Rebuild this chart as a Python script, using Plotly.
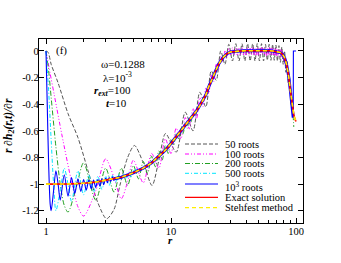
import plotly.graph_objects as go

# ---------------- data ----------------
exact_r = [1.0, 1.3, 1.6, 2.0, 2.5, 3.0, 4.0, 5.0, 6.0, 7.0, 8.0, 9.0, 10, 11, 12, 13, 14, 15, 16, 17, 18, 19, 20,
           22, 24, 26, 28, 30, 33, 36, 40, 45, 50, 55, 60, 65, 70, 75, 78, 81, 84, 87, 90, 93, 96, 98, 100]
exact_v = [-1.0, -1.0, -0.998, -0.993, -0.985, -0.97, -0.948, -0.915, -0.88, -0.84, -0.79, -0.745, -0.695, -0.645,
           -0.60, -0.56, -0.525, -0.49, -0.45, -0.41, -0.37, -0.33, -0.27, -0.18, -0.10, -0.05, -0.02, -0.008,
           -0.002, 0.0, 0.002, 0.003, 0.003, 0.003, 0.002, 0.0, -0.004, -0.012, -0.025, -0.05, -0.10, -0.18,
           -0.29, -0.40, -0.48, -0.51, -0.53]

stehfest_r = exact_r
stehfest_v = exact_v

gray_r = [1.0, 1.04, 1.1, 1.25, 1.5, 1.8, 2.17, 2.6, 3.05, 3.5, 3.9, 4.5, 5.1, 6.0, 7.05, 8.0, 9.05,
          11, 13, 15, 17, 19, 21, 23, 25, 27, 29, 31, 33, 35, 37, 39, 41, 43, 45, 47, 49, 51, 53, 55, 57, 59,
          61, 63, 65, 67, 69, 71, 73, 75, 77, 79, 81, 83, 85, 87, 89, 91, 93, 95]
gray_v = [0, -0.01, -0.1, -0.24, -0.47, -0.65, -0.9, -1.14, -1.26, -1.19, -1.01, -0.80, -0.71, -0.84, -1.01, -0.82, -0.62,
          -0.76, -0.46, -0.60, -0.31, -0.42, -0.15, -0.22, 0.0, -0.10, 0.05, -0.075, 0.055, -0.075, 0.055, -0.075,
          0.055, -0.075, 0.055, -0.075, 0.055, -0.075, 0.055, -0.075, 0.05, -0.07, 0.05, -0.07, 0.05, -0.07, 0.045,
          -0.075, 0.04, -0.085, 0.03, -0.10, 0.0, -0.16, -0.08, -0.25, -0.20, -0.40, -0.35, -0.50]

mag_r = [1.0, 1.08, 1.17, 1.34, 1.6, 1.8, 2.0, 2.5, 3.0, 3.5, 4.0, 4.5, 5.0, 6.0, 7.0,
         8, 9, 10, 11, 12, 13, 14, 15, 16, 17, 18, 19, 20, 21, 22, 23, 24, 25, 26, 27, 28, 29,
         30, 31, 32, 33, 34, 35, 36, 37, 38, 39, 40, 41, 42, 43, 44, 45, 46, 47, 48, 49, 50, 51, 52, 53, 54,
         55, 56, 57, 58, 59, 60, 61, 62, 63, 64, 65, 66, 67, 68, 69, 70, 71, 72, 73, 74, 75, 76, 77, 78,
         79, 80, 81, 82, 83, 84, 85, 86, 87, 88, 89, 90, 91, 92, 93, 94, 95]
mag_v = [0, -0.17, -0.34, -0.63, -0.98, -1.17, -1.24, -1.05, -0.81, -0.95, -1.11, -0.98, -0.82, -0.99, -0.77,
         -0.88, -0.66, -0.77, -0.58, -0.66, -0.50, -0.585, -0.43, -0.51, -0.35, -0.42, -0.28, -0.32, -0.18, -0.23,
         -0.10, -0.14, -0.04, -0.08, 0.0, -0.05, 0.02,
         -0.03, 0.025, -0.03, 0.02, -0.035, 0.02, -0.03, 0.025, -0.03, 0.02, -0.03, 0.025, -0.035, 0.02, -0.03,
         0.025, -0.03, 0.02, -0.03, 0.025, -0.035, 0.02, -0.03, 0.025, -0.03, 0.02, -0.03, 0.025, -0.035, 0.02,
         -0.03, 0.025, -0.03, 0.02, -0.03, 0.02, -0.035, 0.02, -0.03, 0.02, -0.035, 0.015, -0.035, 0.015, -0.04,
         0.01, -0.045, 0.005, -0.055,
         -0.01, -0.07, -0.03, -0.10, -0.06, -0.14, -0.11, -0.19, -0.16, -0.25, -0.23, -0.32, -0.31, -0.39, -0.40,
         -0.47, -0.50]

grn_r = [1.0, 1.05, 1.1, 1.2, 1.3, 1.4, 1.5, 1.75, 2.0, 2.5, 3.0, 3.5, 4.0, 4.5, 5.0, 5.5, 6.0, 6.5, 7.0, 7.5,
         8.0, 8.5, 9.0, 9.5, 10, 10.5, 11, 11.5, 12, 12.5, 13, 13.5, 14, 14.5, 15, 16, 18, 20, 22, 24, 26, 28,
         30, 36, 50, 65, 75, 81, 87, 90, 93, 95, 96]
grn_v = [0, -0.15, -0.35, -0.72, -1.0, -1.16, -1.21, -1.02, -0.84, -1.12, -0.88, -1.06, -0.88, -1.01, -0.86,
         -0.96, -0.83, -0.92, -0.79, -0.87, -0.75, -0.82, -0.71, -0.77, -0.66, -0.71, -0.62, -0.66, -0.58, -0.62,
         -0.54, -0.58, -0.50, -0.53, -0.47, -0.45, -0.37, -0.27, -0.18, -0.10, -0.05, -0.02, -0.008, 0.0, 0.003,
         0.0, -0.012, -0.05, -0.18, -0.29, -0.41, -0.50, -0.57]

cyn_r = [1.0, 1.05, 1.1, 1.15, 1.2, 1.3, 1.4, 1.5, 1.6, 1.8, 2.0, 2.2, 2.4, 2.6, 2.8, 3.0, 3.2, 3.4, 3.6, 3.8,
         4.0, 4.2, 4.4, 4.6, 4.8, 5.0, 6, 7, 8, 9, 10, 12, 14, 16, 18, 20, 22, 24, 26, 28, 30, 36, 50, 65, 75,
         81, 87, 90, 93, 95]
cyn_v = [0, -0.3, -0.67, -1.0, -1.2, -1.05, -0.88, -1.0, -1.13, -0.9, -1.08, -0.93, -1.06, -0.94, -1.04, -0.94,
         -1.01, -0.935, -0.985, -0.925, -0.965, -0.92, -0.955, -0.91, -0.945, -0.90, -0.88, -0.84, -0.79, -0.745,
         -0.695, -0.60, -0.525, -0.45, -0.37, -0.27, -0.18, -0.10, -0.05, -0.02, -0.008, 0.0, 0.003, 0.0, -0.012,
         -0.05, -0.18, -0.29, -0.41, -0.48]

blu_r = [1.0, 1.02, 1.05, 1.08, 1.1, 1.15, 1.2, 1.25, 1.3, 1.4, 1.5, 1.6, 1.7, 1.8, 1.9, 2.0, 2.1, 2.2, 2.3,
         2.4, 2.5, 2.6, 2.7, 2.8, 2.9, 3.0, 3.1, 3.2, 3.3, 3.4, 3.5]
blu_v = [0, -0.35, -0.85, -1.15, -1.2, -1.05, -0.9, -1.0, -1.12, -0.93, -1.09, -0.95, -1.07, -0.96, -1.055,
         -0.965, -1.045, -0.97, -1.035, -0.97, -1.025, -0.965, -1.015, -0.96, -1.005, -0.955, -0.99, -0.95, -0.98,
         -0.945, -0.975]
blu_band_r = [3.5, 4.0, 5.0, 6.0, 7.0, 8.0, 9.0, 10, 11, 12, 13, 14, 15, 16, 17, 18, 19, 20, 22, 24, 26, 28, 30,
              33, 36, 40, 45, 50, 55, 60, 65, 70, 75, 78, 81, 84, 87, 90, 93, 95]
blu_band_v = [-0.96, -0.948, -0.915, -0.88, -0.84, -0.79, -0.745, -0.695, -0.645, -0.60, -0.56, -0.525, -0.49,
              -0.45, -0.41, -0.37, -0.33, -0.27, -0.18, -0.10, -0.05, -0.02, -0.008, -0.002, 0.0, 0.002, 0.003,
              0.003, 0.003, 0.002, 0.0, -0.004, -0.012, -0.025, -0.05, -0.1, -0.18, -0.29, -0.40, -0.50]
blu_tail_r = [95, 95.3, 100]
blu_tail_v = [-0.50, 0.0, 0.0]

x_tickvals = [1, 10, 100]
x_ticktext = ["1", "10", "100"]
x_minor = [2, 3, 4, 5, 6, 7, 8, 9, 20, 30, 40, 50, 60, 70, 80, 90]
y_tickvals = [0, -0.2, -0.4, -0.6, -0.8, -1.0, -1.2]
y_ticktext = ["0", "-0.2", "-0.4", "-0.6", "-0.8", "-1", "-1.2"]

legend_labels = ["50 roots", "100 roots", "200 roots", "500 roots", "10<sup>3</sup> roots",
                 "Exact solution", "Stehfest method"]

# ---------------- styles / layout ----------------
FONT = "Liberation Serif"
W, H = 341, 263
L, T = 39, 39                # plot area at px 39..303 x 39..223
R, B = 341 - 303, 263 - 223
PW, PH = W - L - R, H - T - B

def px(xp):
    """pixel x -> paper fraction"""
    return (xp - L) / PW

def py(yp):
    """pixel y -> paper fraction"""
    return (H - B - yp) / PH

styles = [
    dict(color="#555555", width=1.0, dash="4px,2px"),
    dict(color="#ff00ff", width=1.0, dash="4px,2px,1px,2px,1px,2px"),
    dict(color="#22a022", width=1.0, dash="5px,2px,1px,2px"),
    dict(color="#00e5ff", width=1.0, dash="4px,2px,1px,2px"),
    dict(color="#0000ff", width=1.1, dash="solid"),
    dict(color="#ff0000", width=1.6, dash="solid"),
    dict(color="#ffee00", width=1.6, dash="4px,3px"),
]

fig = go.Figure()

def add(r, v, st, shape="spline", width=None):
    line = dict(color=st["color"], width=width or st["width"], dash=st["dash"], shape=shape)
    if shape == "spline":
        line["smoothing"] = 0.8
    fig.add_trace(go.Scatter(x=r, y=v, mode="lines", line=line, showlegend=False, hoverinfo="skip"))

add(gray_r, gray_v, styles[0])
add(mag_r, mag_v, styles[1])
add(grn_r, grn_v, styles[2])
add(cyn_r, cyn_v, styles[3])
add(blu_band_r, blu_band_v, styles[4], shape="linear", width=3.0)
add(blu_r, blu_v, styles[4])
add(blu_tail_r, blu_tail_v, styles[4], shape="linear")
add(exact_r, exact_v, styles[5], shape="linear")
add(stehfest_r, stehfest_v, styles[6], shape="linear")

# ---------------- manual legend ----------------
leg_y = [144, 154, 163.5, 173.3, 184, 197.3, 207.7]
leg_text_y = [144, 154, 163.5, 173.3, 186, 197.3, 207.7]
shapes = []
annots = []
for lab, st, yl, yt in zip(legend_labels, styles, leg_y, leg_text_y):
    shapes.append(dict(type="line", xref="paper", yref="paper", x0=px(185), x1=px(218), y0=py(yl), y1=py(yl),
                       line=dict(color=st["color"], width=min(st["width"], 1.3), dash=st["dash"])))
    annots.append(dict(text=lab, xref="paper", yref="paper", x=px(223), y=py(yt), xanchor="left",
                       yanchor="middle", showarrow=False, font=dict(family=FONT, size=10.5, color="black")))

# ---------------- text annotations ----------------
def note(text, x, y, xanchor="left", size=11):
    annots.append(dict(text=text, xref="paper", yref="paper", x=px(x), y=py(y), xanchor=xanchor,
                       yanchor="middle", showarrow=False, font=dict(family=FONT, size=size, color="black")))

note("(f)", 61, 51, xanchor="center")
note("ω=0.1288", 99, 64)
note("λ=10<sup>-3</sup>", 100.5, 77)
note("<b><i>r<sub>ext</sub></i></b>=100", 92, 91)
note("<b><i>t</i></b>=10", 104, 103)
note("<b><i>r</i></b>", 170, 240, xanchor="center", size=11)
annots.append(dict(text="<b><i>r ∂h<sub>2</sub>(r,t)/∂r</i></b>", xref="paper", yref="paper",
                   x=px(9), y=py(126), xanchor="center", yanchor="middle", textangle=-90, showarrow=False,
                   font=dict(family=FONT, size=11.5, color="black")))

fig.update_layout(
    width=W, height=H, autosize=False,
    margin=dict(l=L, r=R, t=T, b=B, pad=0),
    paper_bgcolor="white", plot_bgcolor="white",
    shapes=shapes, annotations=annots, showlegend=False,
    font=dict(family=FONT, size=10.5, color="black"),
)
fig.update_xaxes(type="log", range=[-0.056, 2.056], showline=True, linecolor="black", linewidth=1.3,
                 mirror="ticks", ticks="inside", ticklen=5, tickwidth=1, tickcolor="black",
                 tickmode="array", tickvals=x_tickvals, ticktext=x_ticktext, ticklabelstandoff=-2,
                 minor=dict(tickmode="array", tickvals=x_minor, ticks="inside", ticklen=3, tickcolor="black",
                            showgrid=False),
                 showgrid=False, zeroline=False, tickfont=dict(family=FONT, size=10.5, color="black"))
fig.update_yaxes(range=[-1.292, 0.09], showline=True, linecolor="black", linewidth=1.3,
                 mirror="ticks", ticks="inside", ticklen=5, tickwidth=1, tickcolor="black",
                 tickmode="array", tickvals=y_tickvals, ticktext=y_ticktext, ticklabelstandoff=-3,
                 showgrid=False, zeroline=False, tickfont=dict(family=FONT, size=10.5, color="black"))

# remove the default 8px page margin so the figure sits at the window's top-left corner
fig.write_html("out.html", config={"displayModeBar": False},
               post_script="document.body.style.margin='0px';")
